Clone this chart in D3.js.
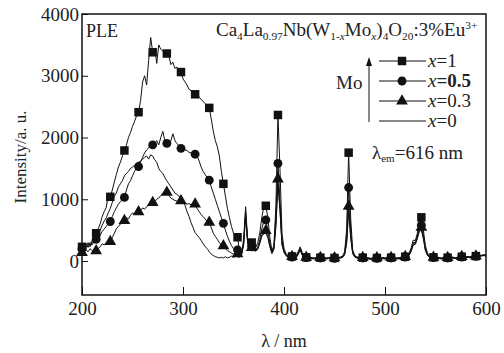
<!DOCTYPE html>
<html>
<head>
<meta charset="utf-8">
<script src="https://cdn.jsdelivr.net/npm/d3@7"></script>
<style>
  body { margin: 0; background: #fff; }
  svg { display: block; }
</style>
</head>
<body>
<div id="chart"></div>
<script>
// wavelength grid (nm)
const wavelength = [
  200, 202, 204, 206, 208, 210, 212, 214, 216, 218,
  220, 222, 224, 226, 228, 230, 232, 234, 236, 238,
  240, 242, 244, 246, 248, 250, 252, 254, 256, 258,
  260, 262, 264, 266, 268, 270, 272, 274, 276, 278,
  280, 282, 284, 286, 288, 290, 292, 294, 296, 298,
  300, 302, 304, 306, 308, 310, 312, 314, 316, 318,
  320, 322, 324, 326, 328, 330, 332, 334, 336, 338,
  340, 342, 344, 346, 348, 350, 352, 354, 356, 358,
  360, 362, 364, 366, 368, 370, 372, 374, 376, 378,
  380, 382, 384, 386, 388, 390, 392, 394, 396, 398,
  400, 402, 404, 406, 408, 410, 412, 414, 416, 418,
  420, 422, 424, 426, 428, 430, 432, 434, 436, 438,
  440, 442, 444, 446, 448, 450, 452, 454, 456, 458,
  460, 462, 464, 466, 468, 470, 472, 474, 476, 478,
  480, 482, 484, 486, 488, 490, 492, 494, 496, 498,
  500, 502, 504, 506, 508, 510, 512, 514, 516, 518,
  520, 522, 524, 526, 528, 530, 532, 534, 536, 538,
  540, 542, 544, 546, 548, 550, 552, 554, 556, 558,
  560, 562, 564, 566, 568, 570, 572, 574, 576, 578,
  580, 582, 584, 586, 588, 590, 592, 594, 596, 598,
  600
];

// x = 1
const moX1 = [
  230, 180, 260, 300, 250, 330, 400, 450, 520, 600,
  720, 800, 870, 1070, 1040, 1150, 1280, 1400, 1520, 1600,
  1700, 1790, 1880, 2000, 2080, 2180, 2260, 2350, 2410, 2600,
  2900, 3000, 2850, 3250, 3620, 3380, 3450, 3200, 3500, 3430,
  3400, 3380, 3360, 3320, 3180, 3220, 3120, 3140, 3000, 3060,
  2950, 2900, 2850, 2780, 2760, 2720, 2700, 2720, 2650, 2620,
  2580, 2550, 2500, 2480, 2300, 2100, 1950, 1850, 1700, 1450,
  1250, 1050, 850, 700, 560, 450, 410, 385, 150, 120,
  350, 880, 350, 310, 300, 250, 220, 300, 450, 700,
  880, 895, 700, 380, 170, 250, 900, 2365, 1500, 450,
  200, 120, 90, 80, 75, 70, 80, 150, 230, 140,
  80, 60, 55, 60, 55, 50, 55, 60, 55, 50,
  55, 50, 55, 60, 55, 50, 55, 60, 65, 80,
  150, 500, 1755, 700, 180, 90, 70, 60, 55, 55,
  50, 55, 50, 45, 50, 55, 50, 45, 50, 55,
  50, 55, 50, 55, 60, 55, 50, 55, 60, 65,
  70, 90, 130, 220, 340, 330, 450, 650, 708, 500,
  250, 130, 80, 65, 60, 55, 60, 55, 50, 55,
  60, 55, 60, 65, 60, 55, 60, 65, 70, 65,
  70, 75, 70, 80, 75, 80, 90, 95, 90, 100,
  95
];

// x = 0.5
const moX05 = [
  200, 150, 220, 280, 230, 300, 330, 350, 380, 420,
  480, 520, 560, 600, 640, 720, 800, 860, 920, 960,
  1000, 1030, 1150, 1250, 1300, 1380, 1450, 1500, 1530, 1600,
  1680, 1750, 1800, 1830, 1870, 1880, 1900, 1950, 1880, 2000,
  2100, 1950, 1905, 1850, 1950, 2060, 1950, 1900, 1870, 1825,
  1850, 1800, 1790, 1760, 1750, 1760, 1730, 1700, 1620, 1520,
  1450, 1400, 1350, 1310, 1200, 1100, 1000, 900, 800, 700,
  610, 500, 400, 320, 250, 200, 180, 180, 120, 130,
  280, 800, 320, 240, 230, 200, 180, 230, 350, 520,
  640, 665, 500, 300, 150, 220, 700, 1580, 1000, 330,
  170, 100, 80, 70, 65, 60, 70, 130, 210, 120,
  70, 55, 50, 55, 50, 45, 50, 55, 50, 45,
  50, 45, 50, 55, 50, 45, 50, 55, 60, 70,
  120, 380, 1190, 500, 150, 80, 60, 55, 50, 50,
  45, 50, 45, 40, 45, 50, 45, 40, 45, 50,
  45, 50, 45, 50, 55, 50, 45, 50, 55, 60,
  65, 80, 110, 190, 300, 300, 400, 540, 580, 420,
  200, 110, 70, 60, 55, 50, 55, 50, 45, 50,
  55, 50, 55, 60, 55, 50, 55, 60, 65, 60,
  65, 70, 65, 75, 70, 75, 85, 90, 95, 100,
  90
];

// x = 0.3
const moX03 = [
  120, 250, 180, 150, 200, 170, 160, 150, 200, 230,
  280, 260, 300, 280, 300, 380, 450, 520, 560, 600,
  620, 640, 700, 680, 740, 780, 760, 800, 780, 820,
  860, 840, 880, 900, 920, 930, 960, 1000, 1020, 1060,
  1100, 1120, 1095, 1060, 1020, 1000, 980, 970, 960, 960,
  950, 940, 920, 930, 910, 900, 905, 850, 800, 750,
  720, 680, 640, 610, 540, 450, 400, 350, 300, 260,
  230, 200, 170, 150, 130, 110, 100, 100, 90, 110,
  260, 750, 300, 210, 200, 180, 170, 200, 300, 420,
  480, 475, 400, 250, 130, 200, 600, 1312, 850, 280,
  150, 90, 70, 60, 55, 50, 60, 110, 190, 100,
  60, 45, 40, 45, 40, 35, 40, 45, 40, 35,
  40, 35, 40, 45, 40, 35, 40, 45, 50, 60,
  110, 300, 870, 400, 130, 70, 50, 45, 40, 40,
  35, 40, 35, 30, 35, 40, 35, 30, 35, 40,
  35, 40, 35, 40, 45, 40, 35, 40, 45, 50,
  55, 70, 100, 170, 280, 280, 380, 500, 530, 380,
  180, 100, 60, 50, 45, 40, 45, 40, 35, 40,
  45, 40, 45, 50, 45, 40, 45, 50, 55, 50,
  55, 60, 55, 65, 60, 65, 75, 80, 85, 90,
  80
];

// x = 0
const moX0 = [
  100, 180, 280, 220, 300, 260, 320, 380, 450, 500,
  580, 650, 700, 780, 850, 950, 1050, 1100, 1200, 1250,
  1300, 1380, 1420, 1450, 1500, 1520, 1550, 1580, 1600, 1620,
  1650, 1680, 1700, 1650, 1720, 1700, 1640, 1600, 1500, 1450,
  1420, 1350, 1300, 1250, 1200, 1150, 1100, 1080, 1050, 1040,
  980, 900, 800, 720, 620, 540, 460, 420, 380, 330,
  280, 230, 200, 150, 110, 90, 70, 60, 50, 60,
  50, 70, 50, 60, 80, 60, 80, 70, 60, 100,
  280, 720, 300, 190, 180, 170, 160, 190, 280, 400,
  440, 450, 380, 230, 120, 190, 560, 1250, 820, 260,
  140, 85, 65, 55, 50, 45, 55, 100, 180, 95,
  55, 45, 40, 45, 40, 35, 40, 45, 40, 35,
  40, 35, 40, 45, 40, 35, 40, 45, 50, 60,
  100, 280, 820, 380, 120, 65, 50, 45, 40, 40,
  35, 40, 35, 30, 35, 40, 35, 30, 35, 40,
  35, 40, 35, 40, 45, 40, 35, 40, 45, 50,
  55, 65, 95, 160, 260, 270, 360, 480, 500, 360,
  170, 95, 60, 50, 45, 40, 45, 40, 35, 40,
  45, 40, 45, 50, 45, 40, 45, 50, 55, 50,
  55, 60, 55, 65, 60, 65, 75, 80, 85, 90,
  80
];

// wavelengths where symbols are drawn
const markerWavelengths = [200, 214, 228, 242, 256, 270, 284, 298, 312, 326, 340, 354, 368,
  382, 394, 408, 422, 436, 450, 464, 478, 492, 506, 520, 536, 548, 562, 576, 590];

const xTicks = [200, 300, 400, 500, 600];
const yTicks = [0, 1000, 2000, 3000, 4000];

const series = [
  { label: "0", values: moX0, symbol: null },
  { label: "0.3", values: moX03, symbol: d3.symbolTriangle },
  { label: "0.5", values: moX05, symbol: d3.symbolCircle },
  { label: "1", values: moX1, symbol: d3.symbolSquare }
];

const W = 504, H = 353;
const margin = { top: 14, right: 18, bottom: 58, left: 82 };
const ink = "#111";
const textInk = "#222";
const serif = "Liberation Serif, Times New Roman, serif";

const svg = d3.select("#chart").append("svg")
  .attr("width", W).attr("height", H)
  .attr("font-family", serif);

const x = d3.scaleLinear().domain([200, 600]).range([margin.left, W - margin.right]);
const y = d3.scaleLinear().domain([-550, 4000]).range([H - margin.bottom, margin.top]);

const symSize = { "0.3": 60, "0.5": 62, "1": 72 };

// curves
const line = d3.line().x((d) => x(d[0])).y((d) => y(d[1]));
series.forEach((s) => {
  const pts = wavelength.map((w, i) => [w, s.values[i]]);
  svg.append("path")
    .attr("d", line(pts))
    .attr("fill", "none")
    .attr("stroke", ink)
    .attr("stroke-width", 1)
    .attr("stroke-linejoin", "round");
});
series.forEach((s) => {
  if (!s.symbol) return;
  const sym = d3.symbol().type(s.symbol).size(symSize[s.label]);
  svg.append("g").selectAll("path")
    .data(markerWavelengths)
    .join("path")
    .attr("d", sym)
    .attr("fill", ink)
    .attr("transform", (w) => {
      const v = s.values[wavelength.indexOf(w)];
      const dy = s.symbol === d3.symbolTriangle ? -1 : 0;
      return `translate(${x(w)},${y(v) + dy})`;
    });
});

// axes (ticks pointing inwards)
const xAxis = svg.append("g")
  .attr("transform", `translate(0,${H - margin.bottom})`)
  .call(d3.axisBottom(x).tickValues(xTicks).tickFormat(d3.format("d"))
    .tickSizeInner(-8).tickSizeOuter(0).tickPadding(7));
const yAxis = svg.append("g")
  .attr("transform", `translate(${margin.left},0)`)
  .call(d3.axisLeft(y).tickValues(yTicks).tickFormat(d3.format("d"))
    .tickSizeInner(-6).tickSizeOuter(0).tickPadding(3));
[xAxis, yAxis].forEach((g) => {
  g.attr("font-family", serif).attr("font-size", 19);
  g.select(".domain").remove();
  g.selectAll("line").attr("stroke", ink).attr("stroke-width", 1);
  g.selectAll("text").attr("fill", textInk);
});

// frame
svg.append("rect")
  .attr("x", margin.left).attr("y", margin.top)
  .attr("width", W - margin.left - margin.right)
  .attr("height", H - margin.top - margin.bottom)
  .attr("fill", "none").attr("stroke", ink).attr("stroke-width", 1.5);

// axis titles
svg.append("text")
  .attr("transform", "translate(26,157) rotate(-90)")
  .attr("text-anchor", "middle")
  .attr("fill", textInk)
  .attr("font-size", 17)
  .text("Intensity/a. u.");

const xt = svg.append("text")
  .attr("x", (margin.left + W - margin.right) / 2).attr("y", 347)
  .attr("text-anchor", "middle")
  .attr("fill", textInk)
  .attr("font-size", 18);
xt.append("tspan").text("λ");
xt.append("tspan").text(" / nm");

// PLE
svg.append("text").attr("x", 86).attr("y", 37)
  .attr("fill", textInk).attr("font-size", 18).text("PLE");

// formula
function richText(g, xPos, yPos, size, parts) {
  const t = g.append("text").attr("x", xPos).attr("y", yPos)
    .attr("fill", textInk).attr("font-size", size);
  let level = 0;
  parts.forEach(([str, kind, italic]) => {
    const target = kind === "sub" ? 4 : kind === "sup" ? -7 : 0;
    const ts = t.append("tspan").attr("dy", target - level).text(str);
    if (kind) ts.attr("font-size", size * 0.6);
    if (italic) ts.attr("font-style", "italic");
    level = target;
  });
  return t;
}
richText(svg, 216, 36, 19, [
  ["Ca"], ["4", "sub"], ["La"], ["0.97", "sub"], ["Nb(W"], ["1-", "sub"], ["x", "sub", true],
  ["Mo"], ["x", "sub", true], [")"], ["4", "sub"], ["O"], ["20", "sub"], [":3%Eu"], ["3+", "sup"]
]);

// legend
const legendRows = [
  { label: "1", y: 61, symbol: d3.symbolSquare, bold: false },
  { label: "0.5", y: 81, symbol: d3.symbolCircle, bold: true },
  { label: "0.3", y: 101, symbol: d3.symbolTriangle, bold: false },
  { label: "0", y: 121, symbol: null, bold: false }
];
const leg = svg.append("g");
legendRows.forEach((r) => {
  leg.append("line").attr("x1", 379).attr("x2", 426).attr("y1", r.y).attr("y2", r.y)
    .attr("stroke", ink).attr("stroke-width", 1);
  if (r.symbol) {
    leg.append("path").attr("d", d3.symbol().type(r.symbol).size(symSize[r.label])())
      .attr("transform", `translate(402,${r.y})`).attr("fill", ink);
  }
  const t = leg.append("text").attr("x", 428).attr("y", r.y + 6)
    .attr("fill", textInk).attr("font-size", 19)
    .attr("font-weight", r.bold ? "bold" : "normal");
  t.append("tspan").attr("font-style", "italic").attr("font-weight", "normal").text("x");
  t.append("tspan").text("=" + r.label);
});
// arrow
leg.append("line").attr("x1", 369).attr("x2", 369).attr("y1", 122).attr("y2", 64)
  .attr("stroke", ink).attr("stroke-width", 1);
leg.append("path").attr("d", "M369,57 L366,66 L372,66 Z").attr("fill", ink);
leg.append("text").attr("x", 336).attr("y", 89).attr("fill", textInk)
  .attr("font-size", 19).text("Mo");

// excitation wavelength note
const em = svg.append("text").attr("x", 372).attr("y", 159)
  .attr("fill", textInk).attr("font-size", 19);
em.append("tspan").text("λ");
em.append("tspan").attr("dy", 3).attr("font-size", 11).text("em");
em.append("tspan").attr("dy", -3).text("=616 nm");
</script>
</body>
</html>
